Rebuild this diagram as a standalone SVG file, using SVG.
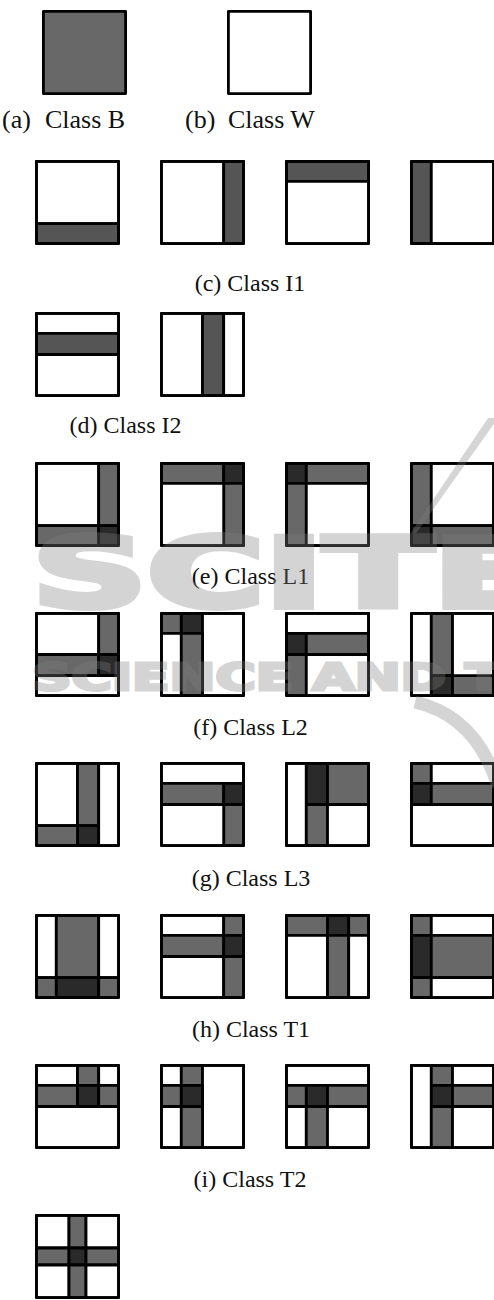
<svg xmlns="http://www.w3.org/2000/svg" width="494" height="1300" viewBox="0 0 494 1300">
<style>
rect{stroke:#000;stroke-width:2.8;stroke-linejoin:round}
rect.bg{fill:#fff;stroke:none}
.w{fill:#fff}.g{fill:#686868}.h{fill:#555}.d{fill:#2a2a2a}.o{fill:none}
text.cap{font-family:"Liberation Serif","Times New Roman",serif;font-size:24px;fill:#111}
.wm{font-family:"DejaVu Sans",sans-serif;font-weight:bold;fill:#808080;stroke:#808080}
</style>
<rect class="bg" width="494" height="1300"/>
<g id="tile-a" transform="translate(42,10)"><rect class="g" x="1.4" y="1.4" width="82.2" height="82.2"/></g>
<g id="tile-b" transform="translate(227,10)"><rect class="w" x="1.4" y="1.4" width="82.2" height="82.2"/></g>
<g id="c1" transform="translate(35,160)"><rect class="w" x="1.4" y="1.4" width="82.2" height="62.3"/><rect class="h" x="1.4" y="63.7" width="82.2" height="19.9"/><rect class="o" x="1.4" y="1.4" width="82.2" height="82.2"/></g>
<g id="c2" transform="translate(160,160)"><rect class="w" x="1.4" y="1.4" width="62.3" height="82.2"/><rect class="h" x="63.7" y="1.4" width="19.9" height="82.2"/><rect class="o" x="1.4" y="1.4" width="82.2" height="82.2"/></g>
<g id="c3" transform="translate(285,160)"><rect class="h" x="1.4" y="1.4" width="82.2" height="19.9"/><rect class="w" x="1.4" y="21.3" width="82.2" height="62.3"/><rect class="o" x="1.4" y="1.4" width="82.2" height="82.2"/></g>
<g id="c4" transform="translate(410,160)"><rect class="h" x="1.4" y="1.4" width="19.9" height="82.2"/><rect class="w" x="21.3" y="1.4" width="62.3" height="82.2"/><rect class="o" x="1.4" y="1.4" width="82.2" height="82.2"/></g>
<g id="d1" transform="translate(35,312)"><rect class="w" x="1.4" y="1.4" width="82.2" height="19.9"/><rect class="h" x="1.4" y="21.3" width="82.2" height="21.2"/><rect class="w" x="1.4" y="42.5" width="82.2" height="41.1"/><rect class="o" x="1.4" y="1.4" width="82.2" height="82.2"/></g>
<g id="d2" transform="translate(160,312)"><rect class="w" x="1.4" y="1.4" width="41.1" height="82.2"/><rect class="h" x="42.5" y="1.4" width="21.2" height="82.2"/><rect class="w" x="63.7" y="1.4" width="19.9" height="82.2"/><rect class="o" x="1.4" y="1.4" width="82.2" height="82.2"/></g>
<g id="e1" transform="translate(35,462)"><rect class="w" x="1.4" y="1.4" width="62.3" height="62.3"/><rect class="g" x="63.7" y="1.4" width="19.9" height="62.3"/><rect class="g" x="1.4" y="63.7" width="62.3" height="19.9"/><rect class="d" x="63.7" y="63.7" width="19.9" height="19.9"/><rect class="o" x="1.4" y="1.4" width="82.2" height="82.2"/></g>
<g id="e2" transform="translate(160,462)"><rect class="g" x="1.4" y="1.4" width="62.3" height="19.9"/><rect class="d" x="63.7" y="1.4" width="19.9" height="19.9"/><rect class="g" x="63.7" y="21.3" width="19.9" height="62.3"/><rect class="w" x="1.4" y="21.3" width="62.3" height="62.3"/><rect class="o" x="1.4" y="1.4" width="82.2" height="82.2"/></g>
<g id="e3" transform="translate(285,462)"><rect class="d" x="1.4" y="1.4" width="19.9" height="19.9"/><rect class="g" x="21.3" y="1.4" width="62.3" height="19.9"/><rect class="g" x="1.4" y="21.3" width="19.9" height="62.3"/><rect class="w" x="21.3" y="21.3" width="62.3" height="62.3"/><rect class="o" x="1.4" y="1.4" width="82.2" height="82.2"/></g>
<g id="e4" transform="translate(410,462)"><rect class="g" x="1.4" y="1.4" width="19.9" height="62.3"/><rect class="w" x="21.3" y="1.4" width="62.3" height="62.3"/><rect class="d" x="1.4" y="63.7" width="19.9" height="19.9"/><rect class="g" x="21.3" y="63.7" width="62.3" height="19.9"/><rect class="o" x="1.4" y="1.4" width="82.2" height="82.2"/></g>
<g id="f1" transform="translate(35,612)"><rect class="w" x="1.4" y="1.4" width="62.3" height="41.1"/><rect class="g" x="63.7" y="1.4" width="19.9" height="41.1"/><rect class="g" x="1.4" y="42.5" width="62.3" height="21.2"/><rect class="d" x="63.7" y="42.5" width="19.9" height="21.2"/><rect class="w" x="1.4" y="63.7" width="82.2" height="19.9"/><rect class="o" x="1.4" y="1.4" width="82.2" height="82.2"/></g>
<g id="f2" transform="translate(160,612)"><rect class="g" x="1.4" y="1.4" width="19.9" height="19.9"/><rect class="d" x="21.3" y="1.4" width="21.2" height="19.9"/><rect class="w" x="42.5" y="1.4" width="41.1" height="82.2"/><rect class="w" x="1.4" y="21.3" width="19.9" height="62.3"/><rect class="g" x="21.3" y="21.3" width="21.2" height="62.3"/><rect class="o" x="1.4" y="1.4" width="82.2" height="82.2"/></g>
<g id="f3" transform="translate(285,612)"><rect class="w" x="1.4" y="1.4" width="82.2" height="19.9"/><rect class="d" x="1.4" y="21.3" width="19.9" height="21.2"/><rect class="g" x="21.3" y="21.3" width="62.3" height="21.2"/><rect class="g" x="1.4" y="42.5" width="19.9" height="41.1"/><rect class="w" x="21.3" y="42.5" width="62.3" height="41.1"/><rect class="o" x="1.4" y="1.4" width="82.2" height="82.2"/></g>
<g id="f4" transform="translate(410,612)"><rect class="w" x="1.4" y="1.4" width="19.9" height="82.2"/><rect class="g" x="21.3" y="1.4" width="21.2" height="62.3"/><rect class="d" x="21.3" y="63.7" width="21.2" height="19.9"/><rect class="g" x="42.5" y="63.7" width="41.1" height="19.9"/><rect class="w" x="42.5" y="1.4" width="41.1" height="62.3"/><rect class="o" x="1.4" y="1.4" width="82.2" height="82.2"/></g>
<g id="g1" transform="translate(35,762)"><rect class="w" x="1.4" y="1.4" width="41.1" height="62.3"/><rect class="g" x="42.5" y="1.4" width="21.2" height="62.3"/><rect class="d" x="42.5" y="63.7" width="21.2" height="19.9"/><rect class="g" x="1.4" y="63.7" width="41.1" height="19.9"/><rect class="w" x="63.7" y="1.4" width="19.9" height="82.2"/><rect class="o" x="1.4" y="1.4" width="82.2" height="82.2"/></g>
<g id="g2" transform="translate(160,762)"><rect class="w" x="1.4" y="1.4" width="82.2" height="19.9"/><rect class="g" x="1.4" y="21.3" width="62.3" height="21.2"/><rect class="d" x="63.7" y="21.3" width="19.9" height="21.2"/><rect class="g" x="63.7" y="42.5" width="19.9" height="41.1"/><rect class="w" x="1.4" y="42.5" width="62.3" height="41.1"/><rect class="o" x="1.4" y="1.4" width="82.2" height="82.2"/></g>
<g id="g3" transform="translate(285,762)"><rect class="w" x="1.4" y="1.4" width="19.9" height="82.2"/><rect class="d" x="21.3" y="1.4" width="21.2" height="41.1"/><rect class="g" x="42.5" y="1.4" width="41.1" height="41.1"/><rect class="g" x="21.3" y="42.5" width="21.2" height="41.1"/><rect class="w" x="42.5" y="42.5" width="41.1" height="41.1"/><rect class="o" x="1.4" y="1.4" width="82.2" height="82.2"/></g>
<g id="g4" transform="translate(410,762)"><rect class="g" x="1.4" y="1.4" width="19.9" height="19.9"/><rect class="w" x="21.3" y="1.4" width="62.3" height="19.9"/><rect class="d" x="1.4" y="21.3" width="19.9" height="21.2"/><rect class="g" x="21.3" y="21.3" width="62.3" height="21.2"/><rect class="w" x="1.4" y="42.5" width="82.2" height="41.1"/><rect class="o" x="1.4" y="1.4" width="82.2" height="82.2"/></g>
<g id="h1" transform="translate(35,914)"><rect class="w" x="1.4" y="1.4" width="19.9" height="62.3"/><rect class="g" x="21.3" y="1.4" width="42.4" height="62.3"/><rect class="w" x="63.7" y="1.4" width="19.9" height="62.3"/><rect class="g" x="1.4" y="63.7" width="19.9" height="19.9"/><rect class="d" x="21.3" y="63.7" width="42.4" height="19.9"/><rect class="g" x="63.7" y="63.7" width="19.9" height="19.9"/><rect class="o" x="1.4" y="1.4" width="82.2" height="82.2"/></g>
<g id="h2" transform="translate(160,914)"><rect class="w" x="1.4" y="1.4" width="62.3" height="19.9"/><rect class="g" x="63.7" y="1.4" width="19.9" height="19.9"/><rect class="g" x="1.4" y="21.3" width="62.3" height="21.2"/><rect class="d" x="63.7" y="21.3" width="19.9" height="21.2"/><rect class="w" x="1.4" y="42.5" width="62.3" height="41.1"/><rect class="g" x="63.7" y="42.5" width="19.9" height="41.1"/><rect class="o" x="1.4" y="1.4" width="82.2" height="82.2"/></g>
<g id="h3" transform="translate(285,914)"><rect class="g" x="1.4" y="1.4" width="41.1" height="19.9"/><rect class="d" x="42.5" y="1.4" width="21.2" height="19.9"/><rect class="g" x="63.7" y="1.4" width="19.9" height="19.9"/><rect class="w" x="1.4" y="21.3" width="41.1" height="62.3"/><rect class="g" x="42.5" y="21.3" width="21.2" height="62.3"/><rect class="w" x="63.7" y="21.3" width="19.9" height="62.3"/><rect class="o" x="1.4" y="1.4" width="82.2" height="82.2"/></g>
<g id="h4" transform="translate(410,914)"><rect class="g" x="1.4" y="1.4" width="19.9" height="19.9"/><rect class="w" x="21.3" y="1.4" width="62.3" height="19.9"/><rect class="d" x="1.4" y="21.3" width="19.9" height="42.4"/><rect class="g" x="21.3" y="21.3" width="62.3" height="42.4"/><rect class="g" x="1.4" y="63.7" width="19.9" height="19.9"/><rect class="w" x="21.3" y="63.7" width="62.3" height="19.9"/><rect class="o" x="1.4" y="1.4" width="82.2" height="82.2"/></g>
<g id="i1" transform="translate(35,1064)"><rect class="w" x="1.4" y="1.4" width="41.1" height="19.9"/><rect class="g" x="42.5" y="1.4" width="21.2" height="19.9"/><rect class="w" x="63.7" y="1.4" width="19.9" height="19.9"/><rect class="g" x="1.4" y="21.3" width="41.1" height="21.2"/><rect class="d" x="42.5" y="21.3" width="21.2" height="21.2"/><rect class="g" x="63.7" y="21.3" width="19.9" height="21.2"/><rect class="w" x="1.4" y="42.5" width="82.2" height="41.1"/><rect class="o" x="1.4" y="1.4" width="82.2" height="82.2"/></g>
<g id="i2" transform="translate(160,1064)"><rect class="w" x="1.4" y="1.4" width="19.9" height="19.9"/><rect class="g" x="21.3" y="1.4" width="21.2" height="19.9"/><rect class="w" x="42.5" y="1.4" width="41.1" height="82.2"/><rect class="g" x="1.4" y="21.3" width="19.9" height="21.2"/><rect class="d" x="21.3" y="21.3" width="21.2" height="21.2"/><rect class="w" x="1.4" y="42.5" width="19.9" height="41.1"/><rect class="g" x="21.3" y="42.5" width="21.2" height="41.1"/><rect class="o" x="1.4" y="1.4" width="82.2" height="82.2"/></g>
<g id="i3" transform="translate(285,1064)"><rect class="w" x="1.4" y="1.4" width="82.2" height="19.9"/><rect class="g" x="1.4" y="21.3" width="19.9" height="21.2"/><rect class="d" x="21.3" y="21.3" width="21.2" height="21.2"/><rect class="g" x="42.5" y="21.3" width="41.1" height="21.2"/><rect class="w" x="1.4" y="42.5" width="19.9" height="41.1"/><rect class="g" x="21.3" y="42.5" width="21.2" height="41.1"/><rect class="w" x="42.5" y="42.5" width="41.1" height="41.1"/><rect class="o" x="1.4" y="1.4" width="82.2" height="82.2"/></g>
<g id="i4" transform="translate(410,1064)"><rect class="w" x="1.4" y="1.4" width="19.9" height="82.2"/><rect class="g" x="21.3" y="1.4" width="21.2" height="19.9"/><rect class="w" x="42.5" y="1.4" width="41.1" height="19.9"/><rect class="d" x="21.3" y="21.3" width="21.2" height="21.2"/><rect class="g" x="42.5" y="21.3" width="41.1" height="21.2"/><rect class="g" x="21.3" y="42.5" width="21.2" height="41.1"/><rect class="w" x="42.5" y="42.5" width="41.1" height="41.1"/><rect class="o" x="1.4" y="1.4" width="82.2" height="82.2"/></g>
<g id="j1" transform="translate(35,1214)"><rect class="w" x="1.4" y="1.4" width="32.6" height="32.6"/><rect class="g" x="34" y="1.4" width="17" height="32.6"/><rect class="w" x="51" y="1.4" width="32.6" height="32.6"/><rect class="g" x="1.4" y="34" width="32.6" height="17"/><rect class="d" x="34" y="34" width="17" height="17"/><rect class="g" x="51" y="34" width="32.6" height="17"/><rect class="w" x="1.4" y="51" width="32.6" height="32.6"/><rect class="g" x="34" y="51" width="17" height="32.6"/><rect class="w" x="51" y="51" width="32.6" height="32.6"/><rect class="o" x="1.4" y="1.4" width="82.2" height="82.2"/></g>
<g id="captions">
<text class="cap" x="2" y="128" style="font-size:26px">(a)<tspan x="45">Class B</tspan></text>
<text class="cap" x="185" y="128" style="font-size:26px">(b)<tspan x="228">Class W</tspan></text>
<text class="cap" x="250" y="291" text-anchor="middle">(c) Class I1</text>
<text class="cap" x="125.5" y="433" text-anchor="middle">(d) Class I2</text>
<text class="cap" x="250.5" y="584" text-anchor="middle">(e) Class L1</text>
<text class="cap" x="250.5" y="735" text-anchor="middle">(f) Class L2</text>
<text class="cap" x="251" y="886" text-anchor="middle">(g) Class L3</text>
<text class="cap" x="251" y="1037" text-anchor="middle">(h) Class T1</text>
<text class="cap" x="250" y="1187" text-anchor="middle">(i) Class T2</text>
</g>
<g id="watermark" opacity="0.33">
<text class="wm" x="32" y="607" font-size="96" stroke-width="6" textLength="510" lengthAdjust="spacingAndGlyphs">SCITE</text>
<text class="wm" x="32" y="690" font-size="37" stroke-width="3" textLength="508" lengthAdjust="spacingAndGlyphs">SCIENCE AND TE</text>
<polygon points="488,418 498,418 410,542 402,546" fill="#808080"/>
<path d="M415,702 Q476,716 498,786" fill="none" stroke="#808080" stroke-width="13"/>
</g>
</svg>
